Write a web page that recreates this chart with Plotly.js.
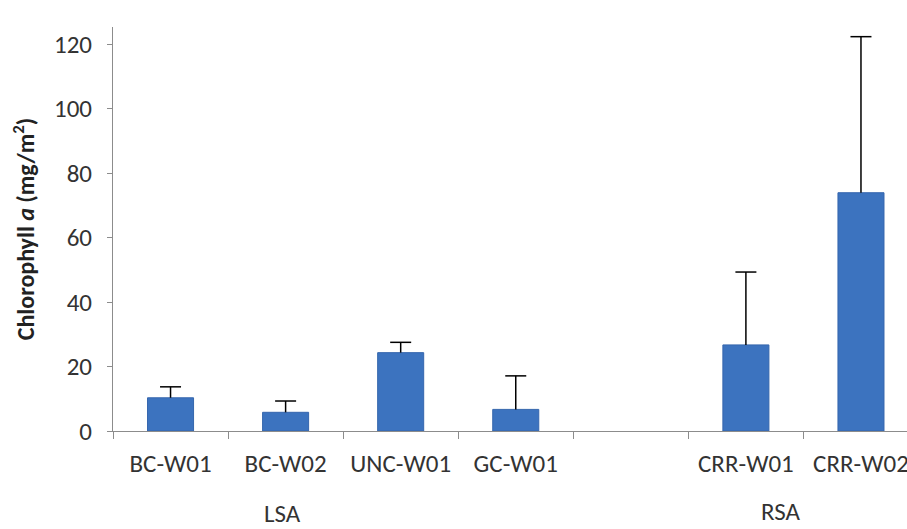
<!DOCTYPE html>
<html>
<head>
<meta charset="utf-8">
<script src="https://cdn.plot.ly/plotly-3.0.1.min.js"></script>
<style>html,body{margin:0;padding:0;background:#fff;}#chart{width:907px;height:529px;}</style>
</head>
<body>
<div id="chart"></div>
<script>
// Data
const sites = ["BC-W01", "BC-W02", "UNC-W01", "GC-W01", " ", "CRR-W01", "CRR-W02"];
const chlA = [10.3, 5.8, 24.3, 6.7, null, 26.7, 73.9];
const chlErr = [3.4, 3.5, 3.2, 10.4, null, 22.6, 48.4];
const groupLabels = ["LSA", "RSA"];
const yTicks = [0, 20, 40, 60, 80, 100, 120];

const capY = chlA.map((v, i) => (v === null ? null : v + chlErr[i]));
const FONT = "Carlito, Lato, 'Liberation Sans', sans-serif";

const bars = {
  type: "bar",
  x: sites,
  y: chlA,
  marker: { color: "#3c73bf", line: { color: "#3566ad", width: 1 } },
  error_y: {
    type: "data", symmetric: false, array: chlErr,
    arrayminus: chlErr.map(e => (e === null ? null : 0)),
    color: "#000", thickness: 1.5, width: 0
  },
  hoverinfo: "x+y"
};
const caps = {
  type: "scatter",
  mode: "markers",
  x: sites,
  y: capY,
  marker: { symbol: "line-ew", size: 15, color: "#000", line: { color: "#000", width: 1.5 } },
  hoverinfo: "skip"
};

const layout = {
  width: 907, height: 529,
  margin: { l: 113, r: 0, t: 27, b: 98 },
  paper_bgcolor: "#fff", plot_bgcolor: "#fff",
  showlegend: false,
  bargap: 0.6,
  font: { family: FONT, color: "#333", size: 25 },
  xaxis: {
    type: "category",
    range: [-0.5, 6.4],
    showline: true, linecolor: "#8c8c8c", linewidth: 1,
    ticks: "outside", tickson: "boundaries", ticklen: 7, tickcolor: "#8c8c8c",
    showgrid: false, zeroline: false,
    tickfont: { family: FONT, size: 25, color: "#333" },
    ticklabelstandoff: 10
  },
  yaxis: {
    range: [0, 125.3],
    tickvals: yTicks,
    showline: true, linecolor: "#8c8c8c", linewidth: 1,
    ticks: "outside", ticklen: 5, tickcolor: "#8c8c8c",
    showgrid: false, zeroline: false,
    tickfont: { family: FONT, size: 25, color: "#333" },
    ticklabelstandoff: 10,
    title: { text: "<b>Chlorophyll <i>a</i> (mg/m<sup>2</sup>)</b>", font: { family: FONT, size: 24, color: "#222" }, standoff: 12 }
  },
  annotations: [
    { text: groupLabels[0], xref: "paper", yref: "paper", x: 0.214, y: -0.205, showarrow: false, xanchor: "center", yanchor: "middle", font: { family: FONT, size: 25, color: "#333" } },
    { text: groupLabels[1], xref: "paper", yref: "paper", x: 0.841, y: -0.2, showarrow: false, xanchor: "center", yanchor: "middle", font: { family: FONT, size: 25, color: "#333" } }
  ]
};

Plotly.newPlot("chart", [bars, caps], layout, { staticPlot: true, displayModeBar: false });
</script>
</body>
</html>
